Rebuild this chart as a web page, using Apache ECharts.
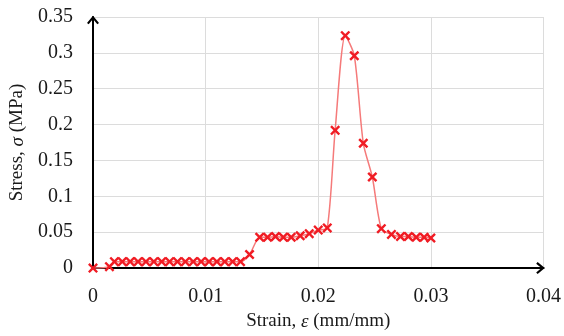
<!DOCTYPE html>
<html><head><meta charset="utf-8">
<script src="https://cdn.jsdelivr.net/npm/echarts@6/dist/echarts.min.js"></script>
<style>html,body{margin:0;padding:0;background:#fff}#c{width:564px;height:336px}</style>
</head><body><div id="c"></div>
<script>
const strain = [0, 0.00146,
  0.0019, 0.0026, 0.0033, 0.0040, 0.0047, 0.0054, 0.0061, 0.0068, 0.0075, 0.0082, 0.0089, 0.0096, 0.0103, 0.0110, 0.0117, 0.0124, 0.0131,
  0.0139, 0.0148, 0.0155, 0.0162, 0.0169, 0.0176, 0.0184, 0.0192, 0.0200, 0.0208,
  0.0215, 0.0224, 0.0232, 0.0240, 0.0248, 0.0256, 0.0265,
  0.0273, 0.0280, 0.0287, 0.0294, 0.0300];
const stress = [0, 0.002,
  0.009, 0.009, 0.009, 0.009, 0.009, 0.009, 0.009, 0.009, 0.009, 0.009, 0.009, 0.009, 0.009, 0.009, 0.009, 0.009, 0.009,
  0.019, 0.043, 0.043, 0.044, 0.043, 0.043, 0.045, 0.048, 0.053, 0.056,
  0.192, 0.324, 0.296, 0.174, 0.127, 0.055, 0.047,
  0.044, 0.044, 0.043, 0.043, 0.042];
const xTicks = {min: 0, max: 0.04, interval: 0.01};
const yTicks = {min: 0, max: 0.35, interval: 0.05};

const chart = echarts.init(document.getElementById('c'));
const font = 'Liberation Serif, Times New Roman, serif';
const txt = '#1a1a1a';
const cross = 'path://M0,1.7L1.7,0L5,3.3L8.3,0L10,1.7L6.7,5L10,8.3L8.3,10L5,6.7L1.7,10L0,8.3L3.3,5Z';
const chevron = 'path://M5,0L10,6L8.6,7.2L5,2.8L1.4,7.2L0,6Z';
chart.setOption({
  animation: false,
  grid: {left: 89, right: 19, top: 17, bottom: 67},
  xAxis: {
    type: 'value', min: xTicks.min, max: xTicks.max, interval: xTicks.interval,
    name: '{n|Strain, }{i|ε}{n| (mm/mm)}', nameLocation: 'middle', nameGap: 43,
    nameTextStyle: {rich: {n: {fontFamily: font, fontSize: 19, color: txt}, i: {fontFamily: font, fontSize: 19, fontStyle: 'italic', color: txt}}},
    axisLine: {lineStyle: {color: '#000', width: 2}, symbol: ['none', chevron], symbolSize: [12, 12], symbolOffset: [0, -3]},
    axisTick: {show: false},
    axisLabel: {fontFamily: font, fontSize: 20, color: txt, margin: 19},
    splitLine: {show: true, lineStyle: {color: '#dcdcdc', width: 1}}
  },
  yAxis: {
    type: 'value', min: yTicks.min, max: yTicks.max, interval: yTicks.interval,
    name: '{n|Stress, }{i|σ}{n| (MPa)}', nameLocation: 'middle', nameGap: 66, nameRotate: 90,
    nameTextStyle: {rich: {n: {fontFamily: font, fontSize: 19, color: txt}, i: {fontFamily: font, fontSize: 19, fontStyle: 'italic', color: txt}}},
    axisLine: {show: true, lineStyle: {color: '#000', width: 2}, symbol: ['none', chevron], symbolSize: [12, 12], symbolOffset: [0, -3]},
    axisTick: {show: false},
    axisLabel: {fontFamily: font, fontSize: 20, color: txt, margin: 20},
    splitLine: {show: true, lineStyle: {color: '#dcdcdc', width: 1}}
  },
  series: [{
    type: 'line',
    data: strain.map((s, i) => [s, stress[i]]),
    smooth: 0.25,
    lineStyle: {color: '#f57a7a', width: 1.5},
    symbol: cross, symbolSize: 10,
    itemStyle: {color: '#f01c24'}
  }]
});
</script></body></html>
